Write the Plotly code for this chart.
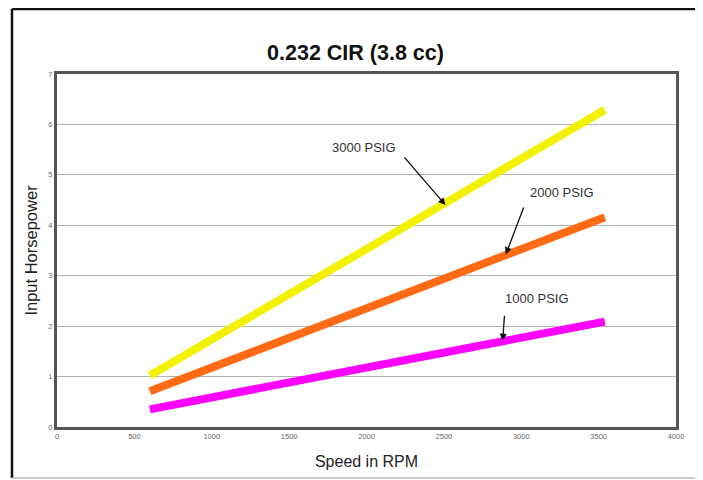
import plotly.graph_objects as go

# ---- data ----
rpm = [600, 3540]
hp_3000 = [1.02, 6.29]
hp_2000 = [0.71, 4.16]
hp_1000 = [0.35, 2.09]

series_names = ["3000 PSIG", "2000 PSIG", "1000 PSIG"]
series_colors = ["#F2F200", "#FF6A14", "#FF00FF"]

# label arrow targets (data coords on each line)
label_x = [2510, 2900, 2880]
label_y = [4.40, 3.42, 1.71]

x_ticks = [0, 500, 1000, 1500, 2000, 2500, 3000, 3500, 4000]
y_ticks = [0, 1, 2, 3, 4, 5, 6, 7]

title = "0.232 CIR (3.8 cc)"
x_title = "Speed in RPM"
y_title = "Input Horsepower"

FONT = "Liberation Sans, Arial"

fig = go.Figure()
for name, ys, col in zip(series_names, [hp_3000, hp_2000, hp_1000], series_colors):
    fig.add_trace(go.Scatter(x=rpm, y=ys, mode="lines", name=name,
                             line=dict(color=col, width=8), showlegend=False,
                             hoverinfo="skip"))

# arrow offsets (pixels, tail relative to head) and text offsets
arrow_off = [(-43, -50), (19, -50), (2, -28)]
text_off = [(-81, -58), (56, -62), (34, -42)]
for name, x, y, (ax, ay), (tx, ty) in zip(series_names, label_x, label_y, arrow_off, text_off):
    fig.add_annotation(x=x, y=y, text=" ", showarrow=True, ax=ax, ay=ay,
                       arrowhead=2, arrowsize=1.1, arrowwidth=1.3, arrowcolor="#111",
                       font=dict(size=2))
    fig.add_annotation(x=x, y=y, text=name, showarrow=False, xshift=tx, yshift=-ty,
                       font=dict(family=FONT, size=13, color="#333"))

axis_common = dict(showline=True, linecolor="#555", linewidth=3, mirror=True,
                   ticks="", tickfont=dict(family=FONT, size=7.5, color="#666"),
                   zeroline=False)

fig.update_xaxes(range=[0, 4000], tickvals=x_ticks, showgrid=False,
                 title=dict(text=x_title, font=dict(family=FONT, size=16, color="#222"), standoff=16),
                 **axis_common)
fig.update_yaxes(range=[0, 7], tickvals=y_ticks, showgrid=True, gridcolor="#b4b4b4", gridwidth=1,
                 title=dict(text=y_title, font=dict(family=FONT, size=16.5, color="#222"), standoff=7),
                 **axis_common)

# outer frame
frame = [
    dict(x0=-0.0727, x1=-0.0727, y0=-0.1445, y1=1.184, color="#111", w=2.5),
    dict(x0=-0.0727, x1=1.037, y0=1.184, y1=1.184, color="#111", w=2.5),
    dict(x0=1.037, x1=1.037, y0=-0.1445, y1=1.184, color="#222", w=2),
    dict(x0=-0.0727, x1=1.037, y0=-0.1445, y1=-0.1445, color="#bbb", w=1.5),
]
for f in frame:
    fig.add_shape(type="line", xref="paper", yref="paper", x0=f["x0"], x1=f["x1"],
                  y0=f["y0"], y1=f["y1"], line=dict(color=f["color"], width=f["w"]))

fig.update_layout(
    width=695, height=472,
    margin=dict(l=49, r=27, t=66, b=53),
    paper_bgcolor="white", plot_bgcolor="white",
    title=dict(text="<b>" + title + "</b>", x=0.5, xanchor="center",
               y=1 - 44 / 472, yanchor="middle",
               font=dict(family=FONT, size=21.5, color="#111")),
)

fig.write_html("out.html")
